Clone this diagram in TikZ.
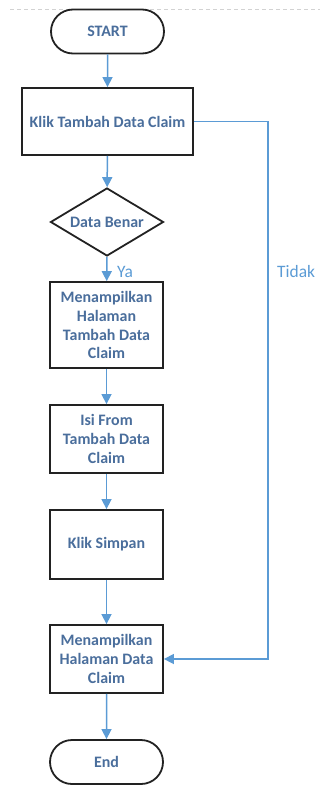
\documentclass[tikz,border=0pt]{standalone}
\usepackage{fontspec}
\setmainfont{Carlito}
\usetikzlibrary{arrows.meta,shapes.geometric,shapes.misc}
\definecolor{txtblue}{HTML}{4A6E9C}
\definecolor{flowblue}{HTML}{5B9BD5}
\definecolor{edge}{HTML}{222222}
\tikzset{
  base/.style={draw=edge, line width=1.8bp, fill=white, text=txtblue,
    font=\fontsize{16}{19}\selectfont\bfseries, align=center, inner sep=0pt},
  term/.style={base, rounded rectangle, minimum width=113bp, minimum height=44bp},
  proc/.style={base, rectangle, minimum width=113bp},
  decision/.style={base, diamond, aspect=1.66, minimum width=113bp, minimum height=68bp},
  flow/.style={draw=flowblue, line width=1.5bp, -{Triangle[width=10bp,length=10bp]}},
  branch/.style={text=flowblue, font=\fontsize{17.5}{20}\selectfont}
}
\begin{document}
\begin{tikzpicture}[x=1bp, y=-1bp]
  \useasboundingbox (0,0) rectangle (320,785);
  \draw[gray!35, line width=0.8bp, dash pattern=on 4bp off 3bp] (10,9.5) -- (320,9.5);

  \node[term] (start) at (107.5,31.5) {START};
  \node[proc, minimum width=171bp, minimum height=67bp] (klik) at (107.5,121.5) {Klik Tambah Data Claim};
  \node[decision] (cek) at (107,222) {Data Benar};
  \node[proc, minimum height=86bp] (tampil) at (106.5,325) {Menampilkan\\Halaman\\Tambah Data\\Claim};
  \node[proc, minimum height=68bp] (isi) at (106.5,439) {Isi From\\Tambah Data\\Claim};
  \node[proc, minimum height=69bp] (simpan) at (106.5,544.5) {Klik Simpan};
  \node[proc, minimum height=68bp] (hasil) at (106.5,659) {Menampilkan\\Halaman Data\\Claim};
  \node[term] (end) at (106.5,762) {End};

  \coordinate (turn) at (268,121.5);

  \draw[flow] (start) -- (klik);
  \draw[flow] (klik) -- (cek);
  \draw[flow] (cek) -- (tampil);
  \draw[flow] (tampil) -- (isi);
  \draw[flow] (isi) -- (simpan);
  \draw[flow] (simpan) -- (hasil);
  \draw[flow] (hasil) -- (end);
  \draw[flow] (klik.east) -- (turn) |- (hasil.east);

  \node[branch, anchor=west, inner sep=0pt] (ya) at (117,272) {Ya};
  \node[branch, anchor=west, inner sep=0pt] (tidak) at (277,272) {Tidak};
\end{tikzpicture}
\end{document}
